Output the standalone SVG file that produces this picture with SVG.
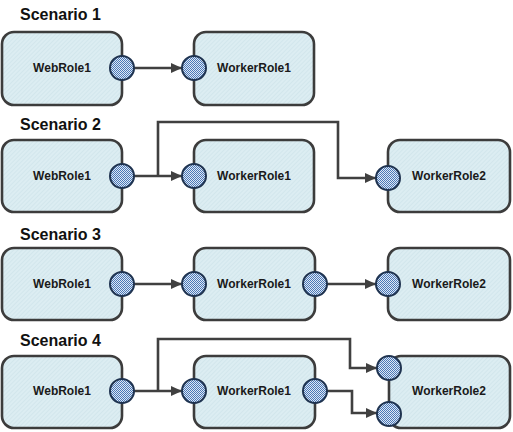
<svg xmlns="http://www.w3.org/2000/svg" width="513" height="432" viewBox="0 0 513 432">
<defs>
<pattern id="hatch" width="3" height="3" patternUnits="userSpaceOnUse" patternTransform="rotate(45)">
<rect width="3" height="3" fill="#dcedf2"/>
<line x1="0" y1="0" x2="0" y2="3" stroke="#c9dfe7" stroke-width="1"/>
</pattern>
<pattern id="check" width="2" height="2" patternUnits="userSpaceOnUse">
<rect width="2" height="2" fill="#dfe8f4"/>
<rect width="1" height="1" fill="#4a78b8"/>
<rect x="1" y="1" width="1" height="1" fill="#4a78b8"/>
</pattern>
<marker id="arr" markerWidth="12" markerHeight="10" refX="11" refY="5" orient="auto" markerUnits="userSpaceOnUse">
<path d="M0,0 L11,5 L0,10 Z" fill="#404040"/>
</marker>
</defs>
<style>
.box{fill:url(#hatch);stroke:#3c3c3c;stroke-width:2.6}
.port{fill:url(#check);stroke:#1f3350;stroke-width:2}
.lbl{font-family:"Liberation Sans",Arial,sans-serif;font-weight:bold;font-size:12px;fill:#1a1a1a;text-anchor:middle}
.title{font-family:"Liberation Sans",Arial,sans-serif;font-weight:bold;font-size:16px;fill:#111}
.conn{fill:none;stroke:#404040;stroke-width:2.6}
</style>
<g id="titles">
<text class="title" x="20" y="20">Scenario 1</text>
<text class="title" x="20" y="130">Scenario 2</text>
<text class="title" x="20" y="240">Scenario 3</text>
<text class="title" x="20" y="346">Scenario 4</text>
</g>
<g id="connectors">
<path class="conn" d="M134 68 H182" marker-end="url(#arr)"/>
<path class="conn" d="M134 176 H182" marker-end="url(#arr)"/>
<path class="conn" d="M158 176 V122 H338 V178 H376" marker-end="url(#arr)"/>
<path class="conn" d="M134 284 H182" marker-end="url(#arr)"/>
<path class="conn" d="M327 284 H376" marker-end="url(#arr)"/>
<path class="conn" d="M134 391 H182" marker-end="url(#arr)"/>
<path class="conn" d="M158 391 V339 H350 V368 H377" marker-end="url(#arr)"/>
<path class="conn" d="M327 391 H352 V413 H377" marker-end="url(#arr)"/>
</g>
<g id="s1-webrole1">
<rect class="box" x="2" y="32" width="120" height="73" rx="12"/>
<text class="lbl" x="62" y="72">WebRole1</text>
<circle class="port" cx="122" cy="68" r="12"/>
</g>
<g id="s1-workerrole1">
<rect class="box" x="194" y="32" width="120" height="73" rx="12"/>
<text class="lbl" x="254" y="72">WorkerRole1</text>
<circle class="port" cx="194" cy="68" r="12"/>
</g>
<g id="s2-webrole1">
<rect class="box" x="2" y="140" width="120" height="72" rx="12"/>
<text class="lbl" x="62" y="180">WebRole1</text>
<circle class="port" cx="122" cy="176" r="12"/>
</g>
<g id="s2-workerrole1">
<rect class="box" x="194" y="140" width="120" height="72" rx="12"/>
<text class="lbl" x="254" y="180">WorkerRole1</text>
<circle class="port" cx="194" cy="176" r="12"/>
</g>
<g id="s2-workerrole2">
<rect class="box" x="388" y="140" width="122" height="72" rx="12"/>
<text class="lbl" x="449" y="180">WorkerRole2</text>
<circle class="port" cx="388" cy="178" r="12"/>
</g>
<g id="s3-webrole1">
<rect class="box" x="2" y="248" width="120" height="72" rx="12"/>
<text class="lbl" x="62" y="288">WebRole1</text>
<circle class="port" cx="122" cy="284" r="12"/>
</g>
<g id="s3-workerrole1">
<rect class="box" x="194" y="248" width="121" height="72" rx="12"/>
<text class="lbl" x="254" y="288">WorkerRole1</text>
<circle class="port" cx="194" cy="284" r="12"/>
<circle class="port" cx="315" cy="284" r="12"/>
</g>
<g id="s3-workerrole2">
<rect class="box" x="388" y="248" width="122" height="72" rx="12"/>
<text class="lbl" x="449" y="288">WorkerRole2</text>
<circle class="port" cx="388" cy="284" r="12"/>
</g>
<g id="s4-webrole1">
<rect class="box" x="2" y="356" width="120" height="72" rx="12"/>
<text class="lbl" x="62" y="395">WebRole1</text>
<circle class="port" cx="122" cy="391" r="12"/>
</g>
<g id="s4-workerrole1">
<rect class="box" x="194" y="356" width="121" height="72" rx="12"/>
<text class="lbl" x="254" y="395">WorkerRole1</text>
<circle class="port" cx="194" cy="391" r="12"/>
<circle class="port" cx="315" cy="391" r="12"/>
</g>
<g id="s4-workerrole2">
<rect class="box" x="389" y="356" width="121" height="72" rx="12"/>
<text class="lbl" x="449" y="395">WorkerRole2</text>
<circle class="port" cx="389" cy="368" r="12"/>
<circle class="port" cx="389" cy="414" r="12"/>
</g>
</svg>
